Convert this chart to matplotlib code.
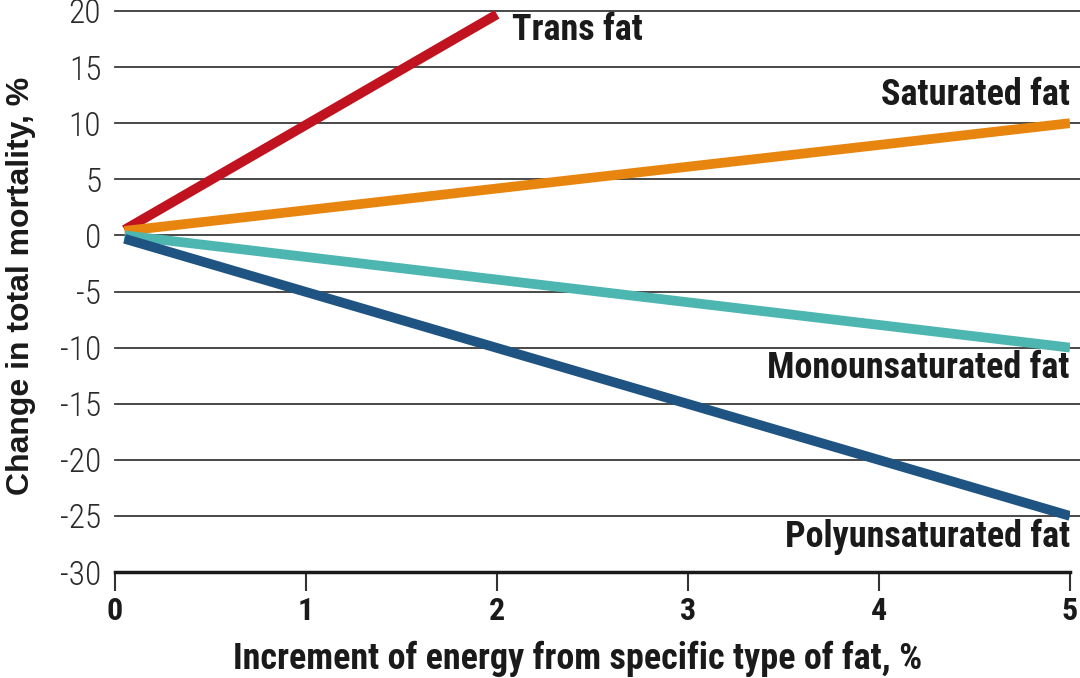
import matplotlib
matplotlib.use('Agg')
import matplotlib.pyplot as plt
from matplotlib import font_manager

# data: start point and end point of each line
fats = ['Trans fat', 'Saturated fat', 'Monounsaturated fat', 'Polyunsaturated fat']
x_start = [0.05, 0.05, 0.05, 0.05]
y_start = [0.5, 0.4, 0.0, -0.3]
x_end = [2.0, 5.0, 5.0, 5.0]
y_end = [19.7, 10.0, -10.0, -25.0]
colors = ['#c0121f', '#e8850f', '#4db6b1', '#1f5482']

y_ticks = [20, 15, 10, 5, 0, -5, -10, -15, -20, -25, -30]
x_ticks = [0, 1, 2, 3, 4, 5]

# label anchors (data coords)
label_x = [2.08, 5.0, 5.0, 5.0]
label_y = [18.3, 12.5, -11.8, -26.9]
label_ha = ['left', 'right', 'right', 'right']

# look for a narrow font, the original uses a condensed sans
names = set(f.name for f in font_manager.fontManager.ttflist)
family = 'DejaVu Sans'
for cand in ['Roboto Condensed', 'Liberation Sans Narrow', 'Open Sans Condensed', 'DejaVu Sans']:
    if cand in names:
        family = cand
        break
side_family = 'Liberation Sans' if 'Liberation Sans' in names else 'DejaVu Sans'

plt.rcParams['font.family'] = [family, 'DejaVu Sans']

fig = plt.figure(figsize=(10.8, 6.78), dpi=100)
ax = fig.add_axes([0.1065, 0.1563, 0.8842, 0.8275])

# grid lines
for t in y_ticks[:-1]:
    ax.axhline(t, color='#3a3a3a', lw=1.3, zorder=1, clip_on=False, xmax=1.01)

for i in range(len(fats)):
    ax.plot([x_start[i], x_end[i]], [y_start[i], y_end[i]], color=colors[i],
            lw=7, solid_capstyle='butt', zorder=3)
    ax.text(label_x[i], label_y[i], fats[i], ha=label_ha[i], va='center',
            fontsize=26, fontweight='bold', color='#1a1a1a')

ax.set_xlim(0, 5)
ax.set_ylim(-30, 20)
ax.set_xticks(x_ticks)
ax.set_yticks(y_ticks)
ax.set_xticklabels([str(v) for v in x_ticks], fontsize=23, fontweight='bold', color='#1a1a1a')
ax.set_yticklabels([str(v) for v in y_ticks], fontsize=24, fontweight='light', color='#2a2a2a')

for s in ['top', 'right', 'left']:
    ax.spines[s].set_visible(False)
ax.spines['bottom'].set_linewidth(2.5)
ax.spines['bottom'].set_color('#1a1a1a')
ax.tick_params(axis='y', length=0, pad=10)
ax.tick_params(axis='x', length=14, width=1.5, color='#333333', pad=3)

ax.set_xlabel('Increment of energy from specific type of fat, %', fontsize=26,
              fontweight='bold', color='#1a1a1a')
ax.xaxis.set_label_coords(0.484, -0.155, transform=ax.transAxes)
ax.xaxis.label.set_va('center')
fig.text(21 / 1080, 1 - 286 / 678, 'Change in total mortality, %', rotation=90,
         ha='center', va='center', fontsize=23, fontweight='bold',
         color='#1a1a1a', family=[side_family, 'DejaVu Sans'])

fig.savefig('out.png', dpi=100)
